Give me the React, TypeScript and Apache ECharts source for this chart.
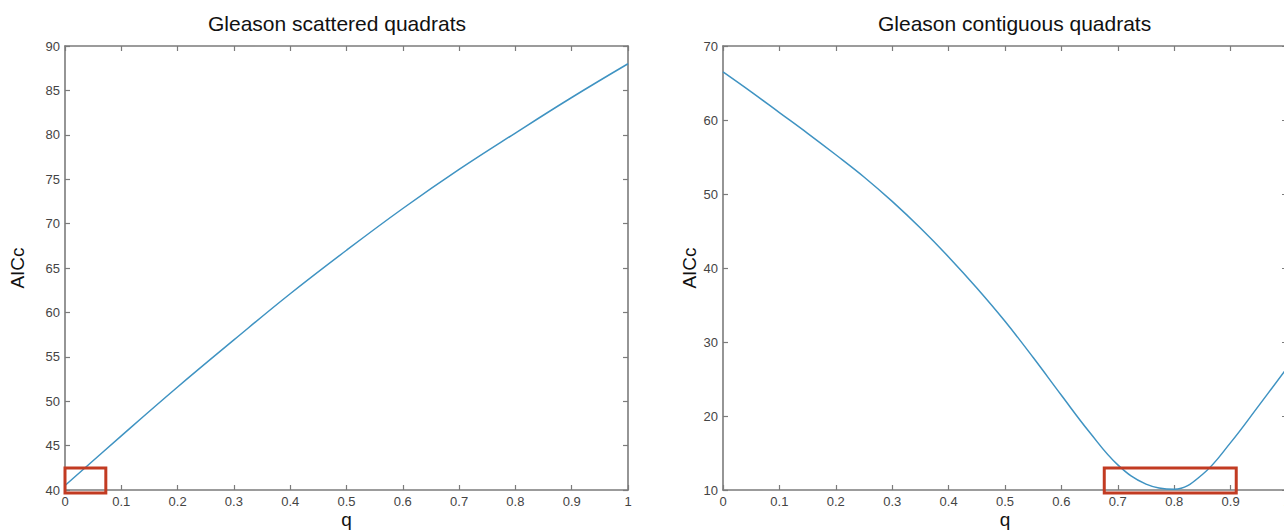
import React, { useEffect, useRef } from "react";
import * as echarts from "echarts";

const titleScattered = "Gleason scattered quadrats";
const titleContiguous = "Gleason contiguous quadrats";
const yName = "AICc";
const xName = "q";

const qScattered = [0, 0.1, 0.2, 0.3, 0.4, 0.5, 0.6, 0.7, 0.8, 0.9, 1];
const aiccScattered = [40.5, 46.1, 51.6, 56.9, 62.1, 67.0, 71.7, 76.1, 80.2, 84.2, 88.0];

const qContiguous = [
  0, 0.05, 0.1, 0.15, 0.2, 0.25, 0.3, 0.35, 0.4, 0.45, 0.5, 0.55, 0.6, 0.65, 0.7,
  0.75, 0.8, 0.85, 0.9, 0.95, 1,
];
const aiccContiguous = [
  66.5, 63.8, 61.0, 58.2, 55.3, 52.3, 49.0, 45.4, 41.5, 37.3, 32.8, 27.9, 22.8, 17.8, 13.4,
  10.8, 10.1, 12.1, 16.4, 21.4, 26.5,
];

// highlight boxes in data units: [qFrom, qTo, aiccFrom, aiccTo]
const boxScattered = [0, 0.0725, 39.66, 42.48];
const boxContiguous = [0.676, 0.91, 9.6, 12.97];

const FONT = "'Liberation Sans', Arial, Helvetica, sans-serif";
const AXIS_COLOR = "#7b7b7b";
const LABEL_COLOR = "#444444";
const LINE_COLOR = "#3f93c2";
const BOX_COLOR = "#c23b22";

function makeX(gridIndex: number, pos: "bottom" | "top") {
  const bottom = pos === "bottom";
  return {
    type: "value",
    gridIndex,
    position: pos,
    min: 0,
    max: 1,
    interval: 0.1,
    name: bottom ? xName : "",
    nameLocation: "middle",
    nameGap: 22,
    nameMoveOverlap: false,
    nameTextStyle: { fontFamily: FONT, fontSize: 19, color: "#111", lineHeight: 15 },
    axisLine: { show: true, onZero: false, lineStyle: { color: AXIS_COLOR, width: 1.6 } },
    axisTick: { show: true, inside: true, length: 5, lineStyle: { color: AXIS_COLOR, width: 1.2 } },
    axisLabel: {
      show: bottom,
      margin: 5,
      fontFamily: FONT,
      fontSize: 13,
      color: LABEL_COLOR,
    },
    splitLine: { show: false },
  };
}

function makeY(gridIndex: number, pos: "left" | "right", min: number, max: number, interval: number, gap: number) {
  const left = pos === "left";
  return {
    type: "value",
    gridIndex,
    position: pos,
    min,
    max,
    interval,
    name: left ? yName : "",
    nameLocation: "middle",
    nameGap: gap,
    nameRotate: 90,
    nameTextStyle: { fontFamily: FONT, fontSize: 19, color: "#111" },
    axisLine: { show: true, onZero: false, lineStyle: { color: AXIS_COLOR, width: 1.6 } },
    axisTick: { show: true, inside: true, length: 5, lineStyle: { color: AXIS_COLOR, width: 1.2 } },
    axisLabel: {
      show: left,
      margin: 5,
      fontFamily: FONT,
      fontSize: 13,
      color: LABEL_COLOR,
    },
    splitLine: { show: false },
  };
}

export default function App() {
  const ref = useRef<HTMLDivElement>(null);

  useEffect(() => {
    if (!ref.current) return;
    const chart = echarts.init(ref.current, undefined, { renderer: "svg" });
    chart.setOption({
      animation: false,
      backgroundColor: "#ffffff",
      title: [
        {
          text: titleScattered,
          left: 203,
          top: 8,
          textStyle: { fontFamily: FONT, fontSize: 21, fontWeight: "normal", color: "#111" },
        },
        {
          text: titleContiguous,
          left: 873,
          top: 8,
          textStyle: { fontFamily: FONT, fontSize: 21, fontWeight: "normal", color: "#111" },
        },
      ],
      grid: [
        { left: 65, top: 46, width: 563, height: 444, show: false, containLabel: false, outerBoundsMode: "none" },
        { left: 723, top: 46, width: 564, height: 444, show: false, containLabel: false, outerBoundsMode: "none" },
      ],
      xAxis: [makeX(0, "bottom"), makeX(0, "top"), makeX(1, "bottom"), makeX(1, "top")],
      yAxis: [
        makeY(0, "left", 40, 90, 5, 38),
        makeY(0, "right", 40, 90, 5, 38),
        makeY(1, "left", 10, 70, 10, 24),
        makeY(1, "right", 10, 70, 10, 24),
      ],
      series: [
        {
          type: "line",
          xAxisIndex: 0,
          yAxisIndex: 0,
          data: qScattered.map((q, i) => [q, aiccScattered[i]]),
          smooth: 0.4,
          showSymbol: false,
          lineStyle: { color: LINE_COLOR, width: 1.5 },
          clip: false,
        },
        {
          type: "line",
          xAxisIndex: 2,
          yAxisIndex: 2,
          data: qContiguous.map((q, i) => [q, aiccContiguous[i]]),
          smooth: 0.4,
          showSymbol: false,
          lineStyle: { color: LINE_COLOR, width: 1.5 },
          clip: false,
        },
      ],
    });

    const boxRect = (gridIndex: number, b: number[]) => {
      const p1 = chart.convertToPixel({ gridIndex } as any, [b[0], b[3]]) as number[];
      const p2 = chart.convertToPixel({ gridIndex } as any, [b[1], b[2]]) as number[];
      return {
        type: "rect",
        shape: { x: p1[0], y: p1[1], width: p2[0] - p1[0], height: p2[1] - p1[1] },
        style: { fill: "none", stroke: BOX_COLOR, lineWidth: 3 },
        z: 100,
      };
    };
    chart.setOption({
      graphic: [boxRect(0, boxScattered), boxRect(1, boxContiguous)],
    });

    return () => chart.dispose();
  }, []);

  return (
    <div
      ref={ref}
      style={{ position: "absolute", left: 0, top: 0, width: 1284, height: 531, background: "#fff" }}
    />
  );
}
